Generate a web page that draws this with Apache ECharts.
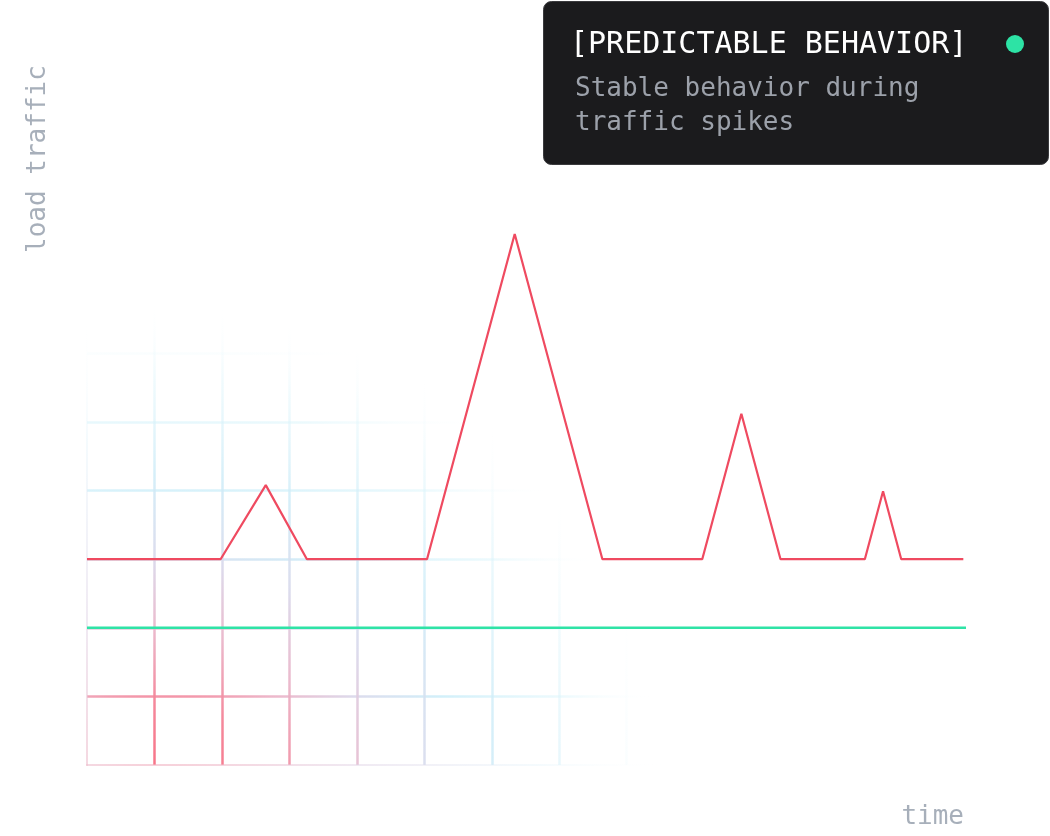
<!DOCTYPE html>
<html>
<head>
<meta charset="utf-8">
<script src="https://cdn.jsdelivr.net/npm/echarts@6/dist/echarts.min.js"></script>
<style>
  html, body { margin: 0; padding: 0; background: #ffffff; }
  #chart { width: 1050px; height: 836px; }
</style>
</head>
<body>
<div id="chart"></div>
<script>
// ---- data ----
const loadTime = [0, 1.98, 2.65, 3.26, 5.04, 6.34, 7.64, 9.12, 9.70, 10.28, 11.53, 11.80, 12.07, 12.99];
const loadValue = [3, 3, 4.08, 3, 3, 7.74, 3, 3, 5.12, 3, 3, 3.99, 3, 3];
const stableTime = [0, 13.03];
const stableValue = [2, 2];
const xAxisName = 'time';
const yAxisName = 'load traffic';
const boxTitle = '[PREDICTABLE BEHAVIOR]';
const boxLines = ['Stable behavior during', 'traffic spikes'];

const loadData = loadTime.map((t, i) => [t, loadValue[i]]);
const stableData = stableTime.map((t, i) => [t, stableValue[i]]);

const RG = echarts.graphic.RadialGradient;
const hGrad = new RG(160, 815, 510, [
  { offset: 0, color: 'rgba(250,100,120,1)' },
  { offset: 0.18, color: 'rgba(247,122,142,0.95)' },
  { offset: 0.32, color: 'rgba(236,180,200,0.95)' },
  { offset: 0.45, color: 'rgba(218,218,236,0.95)' },
  { offset: 0.6, color: 'rgba(205,238,249,0.9)' },
  { offset: 0.82, color: 'rgba(220,245,251,0.55)' },
  { offset: 1, color: 'rgba(255,255,255,0)' }
], true);
const vGrad = new RG(160, 815, 515, [
  { offset: 0, color: 'rgba(250,100,120,1)' },
  { offset: 0.22, color: 'rgba(244,130,150,0.95)' },
  { offset: 0.36, color: 'rgba(234,182,202,0.95)' },
  { offset: 0.5, color: 'rgba(218,218,236,0.95)' },
  { offset: 0.66, color: 'rgba(206,236,248,0.85)' },
  { offset: 0.85, color: 'rgba(222,245,251,0.45)' },
  { offset: 1, color: 'rgba(255,255,255,0)' }
], true);
const axisGrad = new RG(160, 815, 510, [
  { offset: 0, color: 'rgba(245,165,180,0.6)' },
  { offset: 0.4, color: 'rgba(225,212,230,0.5)' },
  { offset: 0.75, color: 'rgba(225,242,250,0.35)' },
  { offset: 1, color: 'rgba(255,255,255,0)' }
], true);

const mono = '"DejaVu Sans Mono", "Liberation Mono", monospace';

const chart = echarts.init(document.getElementById('chart'), null, { renderer: 'canvas' });
chart.setOption({
  animation: false,
  backgroundColor: '#ffffff',
  grid: { left: 87, right: 86, top: 79, bottom: 71, containLabel: false },
  xAxis: {
    type: 'value', min: 0, max: 13, interval: 1,
    axisLine: { show: true, lineStyle: { color: axisGrad, width: 2 } },
    axisTick: { show: false }, axisLabel: { show: false },
    splitLine: { show: true, showMinLine: false, showMaxLine: false, lineStyle: { color: vGrad, width: 2.5 } }
  },
  yAxis: {
    type: 'value', min: 0, max: 10, interval: 1,
    axisLine: { show: true, lineStyle: { color: axisGrad, width: 2 } },
    axisTick: { show: false }, axisLabel: { show: false },
    splitLine: { show: true, showMinLine: false, showMaxLine: false, lineStyle: { color: hGrad, width: 2.5 } }
  },
  series: [
    {
      type: 'line', data: stableData, showSymbol: false, symbol: 'none',
      lineStyle: { color: '#2fe3a6', width: 2.5 }, z: 2
    },
    {
      type: 'line', data: loadData, showSymbol: false, symbol: 'none',
      lineStyle: { color: '#ef4a60', width: 2.2 }, z: 3
    }
  ],
  graphic: [
    {
      type: 'text', x: 964, y: 817,
      style: { text: xAxisName, font: '26px ' + mono, fill: '#a7afba', textAlign: 'right', textVerticalAlign: 'middle' }
    },
    {
      type: 'text', x: 38, y: 253, rotation: Math.PI / 2,
      style: { text: yAxisName, font: '26px ' + mono, fill: '#a7afba', textAlign: 'left', textVerticalAlign: 'middle' }
    },
    {
      type: 'rect', shape: { x: 543.5, y: 1.5, width: 505, height: 163, r: 8 },
      style: { fill: '#1b1b1d', stroke: '#3a3a3d', lineWidth: 1 }, z: 10
    },
    {
      type: 'text', x: 570, y: 45, z: 11,
      style: { text: boxTitle, font: '30px ' + mono, fill: '#ffffff', textAlign: 'left', textVerticalAlign: 'middle' }
    },
    {
      type: 'circle', shape: { cx: 1015, cy: 44, r: 9 }, z: 11,
      style: { fill: '#2de3a5' }
    },
    {
      type: 'text', x: 575, y: 89, z: 11,
      style: { text: boxLines[0], font: '26px ' + mono, fill: '#9ca1aa', textAlign: 'left', textVerticalAlign: 'middle' }
    },
    {
      type: 'text', x: 575, y: 123, z: 11,
      style: { text: boxLines[1], font: '26px ' + mono, fill: '#9ca1aa', textAlign: 'left', textVerticalAlign: 'middle' }
    }
  ]
});
</script>
</body>
</html>
